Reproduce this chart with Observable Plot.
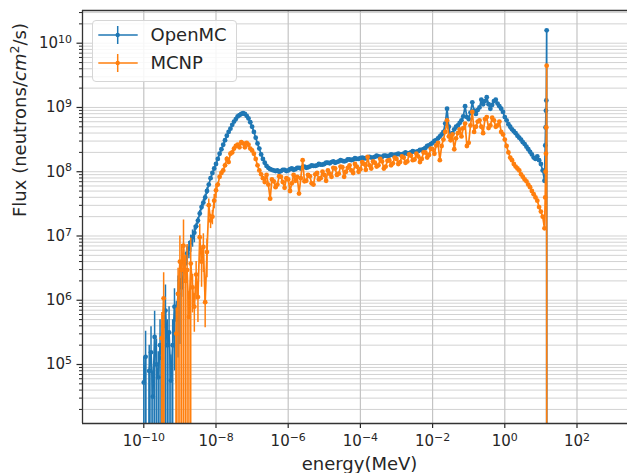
<!DOCTYPE html>
<html><head><meta charset="utf-8">
<script src="https://cdn.jsdelivr.net/npm/d3@7"></script>
<script src="https://cdn.jsdelivr.net/npm/@observablehq/plot@0.6"></script>
<style>
html,body{margin:0;padding:0;background:#fff;overflow:hidden;}
#wrap{position:relative;width:627px;height:473px;font-family:"DejaVu Sans",sans-serif;}
#legend{position:absolute;left:92px;top:20px;width:143px;height:60px;border:1px solid #d6d6d6;border-radius:4px;background:rgba(255,255,255,0.85);}
.row{position:absolute;left:0;height:24px;width:100%;}
.row svg{position:absolute;left:0;top:0;}
.row span{position:absolute;left:57.5px;top:0;line-height:24px;font-size:18px;color:#262626;white-space:nowrap;}
</style>
</head><body>
<div id="wrap"><div id="legend"></div></div>
<script>
// energy bin positions, log10(E / MeV)
const energyLog10 = [
 -10.00,-9.95,-9.90,-9.85,-9.80,-9.75,-9.70,-9.65,-9.60,-9.55,
 -9.50,-9.45,-9.40,-9.35,-9.30,-9.25,-9.20,-9.15,-9.10,-9.05,
 -9.00,-8.95,-8.90,-8.85,-8.80,-8.75,-8.70,-8.65,-8.60,-8.55,
 -8.50,-8.45,-8.40,-8.35,-8.30,-8.25,
 -8.20,-8.15,-8.10,-8.05,-8.00,-7.95,-7.90,-7.85,-7.80,-7.75,
 -7.70,-7.65,-7.60,-7.55,-7.50,-7.45,-7.40,-7.35,-7.30,-7.25,
 -7.20,-7.15,-7.10,-7.05,-7.00,-6.95,-6.90,-6.85,-6.80,-6.75,
 -6.70,-6.65,-6.60,-6.55,-6.50,-6.45,-6.40,-6.35,-6.30,-6.25,
 -6.20,-6.15,-6.10,-6.05,-6.00,-5.95,-5.90,-5.85,-5.80,-5.75,
 -5.70,-5.65,-5.60,-5.55,-5.50,-5.45,-5.40,-5.35,-5.30,-5.25,
 -5.20,-5.15,-5.10,-5.05,-5.00,-4.95,-4.90,-4.85,-4.80,-4.75,
 -4.70,-4.65,-4.60,-4.55,-4.50,-4.45,-4.40,-4.35,-4.30,-4.25,
 -4.20,-4.15,-4.10,-4.05,-4.00,-3.95,-3.90,-3.85,-3.80,-3.75,
 -3.70,-3.65,-3.60,-3.55,-3.50,-3.45,-3.40,-3.35,-3.30,-3.25,
 -3.20,-3.15,-3.10,-3.05,-3.00,-2.95,-2.90,-2.85,-2.80,-2.75,
 -2.70,-2.65,-2.60,-2.55,-2.50,-2.45,-2.40,-2.35,-2.30,-2.25,
 -2.20,-2.15,-2.10,-2.05,-2.00,-1.95,-1.90,-1.85,-1.80,-1.75,
 -1.70,-1.65,-1.60,-1.55,-1.50,-1.45,-1.40,-1.35,-1.30,-1.25,
 -1.20,-1.15,-1.10,-1.05,-1.00,-0.95,-0.90,-0.85,-0.80,-0.75,
 -0.70,-0.65,-0.60,-0.55,-0.50,-0.45,-0.40,-0.35,-0.30,-0.25,
 -0.20,-0.15,-0.10,-0.05,0.00,0.05,0.10,0.15,0.20,0.25,
 0.30,0.35,0.40,0.45,0.50,0.55,0.60,0.65,0.70,0.75,
 0.80,0.85,0.90,0.95,1.00,1.05,1.10,
 1.12,1.13,1.14,1.15,1.16,1.17];

// log10 flux (neutrons/cm2/s); null = zero flux
const openmcLog10Flux = [
 4.72,5.12,null,4.90,5.19,4.50,5.43,5.00,4.80,5.30,
 5.10,5.60,5.84,5.30,5.50,4.75,5.30,5.90,5.70,6.10,
 6.31,6.20,6.45,6.57,6.73,6.80,6.90,6.98,7.05,7.15,
 7.24,7.35,7.45,7.52,7.60,7.70,
 7.80,7.90,7.98,8.05,8.12,8.20,8.28,8.35,8.42,8.49,
 8.56,8.62,8.67,8.73,8.78,8.82,8.86,8.88,8.90,8.91,
 8.90,8.87,8.83,8.77,8.70,8.62,8.53,8.44,8.36,8.27,
 8.20,8.14,8.09,8.06,8.04,8.03,8.02,8.01,8.02,8.00,
 8.01,8.03,8.03,8.01,8.02,8.04,8.05,8.03,8.04,8.06,
 8.06,8.05,8.07,8.08,8.06,8.07,8.08,8.10,8.09,8.09,
 8.10,8.12,8.11,8.11,8.12,8.14,8.14,8.13,8.15,8.16,
 8.14,8.15,8.16,8.18,8.17,8.16,8.17,8.19,8.19,8.18,
 8.19,8.21,8.20,8.20,8.21,8.22,8.21,8.21,8.22,8.23,
 8.22,8.22,8.23,8.25,8.24,8.23,8.23,8.25,8.25,8.24,
 8.25,8.27,8.26,8.26,8.27,8.28,8.27,8.27,8.28,8.30,
 8.28,8.29,8.30,8.32,8.31,8.31,8.32,8.34,8.34,8.35,
 8.37,8.40,8.41,8.43,8.45,8.48,8.49,8.52,8.55,8.58,
 8.62,8.75,8.98,8.70,8.54,8.60,8.66,8.70,8.72,8.76,
 8.80,8.86,9.02,8.85,8.82,8.92,9.08,8.95,8.90,8.96,
 9.00,9.12,9.05,9.10,9.16,9.05,8.98,9.04,9.10,9.12,
 9.06,9.02,8.98,8.93,8.85,8.80,8.74,8.70,8.66,8.63,
 8.60,8.56,8.53,8.50,8.46,8.43,8.39,8.35,8.31,8.27,
 8.22,8.20,8.24,8.18,8.12,8.02,7.86,
 8.41,8.69,8.95,9.11,10.20,null];

// relative uncertainty of the low-energy bins (later bins: bars too small to see)
const openmcRelErr = [
 1.5,1.5,1.5,1.5,1.5,1.5,1.5,1.5,1.5,1.5,
 1.5,1.5,1.5,1.5,1.5,1.5,1.5,0.9,0.9,0.9,
 0.9,0.3,0.3,0.3,0.3,0.3,0.3,0.3,0.3,0.12,
 0.12,0.12,0.12,0.12,0.12,0.12,
 0.06,0.06,0.06,0.06,0.06];

const mcnpLog10Flux = [
 null,null,null,null,null,null,null,null,null,null,
 5.41,6.03,null,null,null,null,null,null,5.48,6.10,
 6.60,6.47,6.85,6.30,6.47,5.74,6.57,6.20,5.90,6.40,
 6.05,6.98,6.60,6.83,5.97,6.75,
 7.48,7.24,7.30,7.55,7.71,7.80,7.92,7.98,8.02,8.10,
 8.20,8.15,8.28,8.30,8.36,8.40,8.42,8.38,8.46,8.44,
 8.38,8.45,8.42,8.36,8.33,8.28,8.20,8.10,8.02,7.96,
 7.90,7.84,7.95,7.80,7.58,7.88,7.85,7.76,7.80,7.93,
 7.92,7.84,7.75,7.90,7.88,7.70,7.82,7.95,7.86,7.92,
 7.66,7.90,8.18,7.85,7.86,7.95,7.93,7.82,7.80,7.96,
 7.98,7.88,7.90,8.00,7.95,7.86,8.02,7.97,7.92,8.06,
 8.05,7.95,7.97,8.08,8.07,7.92,8.00,8.06,8.10,8.02,
 7.98,8.12,8.08,8.00,8.04,8.15,8.12,8.03,8.23,8.10,
 8.05,8.16,8.14,8.08,8.10,8.20,8.16,8.05,8.08,8.17,
 8.18,8.10,8.13,8.22,8.20,8.12,8.15,8.24,8.22,8.14,
 8.16,8.27,8.25,8.18,8.19,8.28,8.24,8.15,8.20,8.30,
 8.30,8.22,8.26,8.36,8.35,8.28,8.41,8.45,8.18,8.40,
 8.50,8.62,8.80,8.55,8.49,8.58,8.35,8.52,8.60,8.66,
 8.55,8.68,8.75,8.40,8.45,8.72,8.93,8.62,8.70,8.78,
 8.80,8.70,8.60,8.82,8.85,8.68,8.72,8.84,8.80,8.70,
 8.72,8.78,8.62,8.58,8.50,8.40,8.30,8.22,8.18,8.12,
 8.08,8.05,8.02,7.96,7.92,7.88,7.85,7.80,7.76,7.70,
 7.65,7.60,7.55,7.45,7.38,7.30,7.12,
 7.60,8.00,8.28,8.69,9.65,null];

const mcnpRelErr = [
 0,0,0,0,0,0,0,0,0,0,
 1.5,1.5,0,0,0,0,0,0,1.5,1.5,
 1.5,1.5,1.5,1.5,1.5,1.5,1.5,0.6,0.6,0.6,
 0.6,0.6,0.6,0.6,0.6,0.6,
 0.25,0.25,0.25,0.25,0.25,0.08,0.08,0.08,0.08,0.08,
 0.08,0.08,0.08,0.08,0.08];

const seriesNames = ["OpenMC", "MCNP"];
const seriesColors = ["#1f77b4", "#ff7f0e"];
const xTickExps = [-10, -8, -6, -4, -2, 0, 2];
const yTickExps = [5, 6, 7, 8, 9, 10];
const xLabel = "energy(MeV)";
const yLabel = "Flux (neutrons/cm2/s)";

const FLOOR = 1e-30;
const xDomain = [10 ** -11.698, 10 ** 3.399];
const yDomain = [10 ** 4.082, 10 ** 10.509];

const series = [
  {name: seriesNames[0], color: seriesColors[0], vals: openmcLog10Flux, err: openmcRelErr},
  {name: seriesNames[1], color: seriesColors[1], vals: mcnpLog10Flux, err: mcnpRelErr}
];

const yGrid = [];
for (let n = 4; n <= 10; n++) for (let k = 1; k <= 9; k++) {
  const v = k * 10 ** n;
  if (v >= yDomain[0] && v <= yDomain[1]) yGrid.push(v);
}
const xTicks = xTickExps.map(e => 10 ** e);
const yTicks = yTickExps.map(e => 10 ** e);
const fmt = d => "10^" + Math.round(Math.log10(d));

const seriesMarks = series.flatMap(s => {
  const pts = energyLog10.map((e, i) => ({E: 10 ** e, F: s.vals[i] == null ? 0 : 10 ** s.vals[i], r: s.err[i] || 0}));
  return [
    Plot.line(pts, {x: "E", y: d => d.F > 0 ? d.F : FLOOR, stroke: s.color, strokeWidth: 1.7, clip: true}),
    Plot.ruleX(pts.filter(d => d.F > 0 && d.r > 0), {x: "E", y1: d => Math.max(d.F * (1 - d.r), FLOOR), y2: d => d.F * (1 + d.r), stroke: s.color, strokeWidth: 1.5, clip: true}),
    Plot.dot(pts.filter(d => d.F > 0), {x: "E", y: "F", r: 2.4, fill: s.color, clip: true})
  ];
});

const chart = Plot.plot({
  width: 627, height: 473,
  marginLeft: 82, marginRight: 0, marginTop: 10, marginBottom: 50,
  style: {fontFamily: "DejaVu Sans", fontSize: "15px", color: "#262626", background: "transparent", overflow: "hidden"},
  x: {type: "log", domain: xDomain},
  y: {type: "log", domain: yDomain},
  marks: [
    Plot.ruleY(yGrid, {stroke: "#d2d2d2", strokeWidth: 1}),
    Plot.ruleX(xTicks, {stroke: "#c4c4c4", strokeWidth: 1.2}),
    ...seriesMarks,
    Plot.axisY(yGrid.filter(v => !yTicks.some(t => Math.abs(t - v) / t < 1e-9)), {tickSize: 3, tickFormat: () => "", label: null, strokeWidth: 1}),
    Plot.axisY(yTicks, {tickSize: 5.5, tickPadding: 5, tickFormat: fmt, fontSize: 15, label: null, strokeWidth: 1.2}),
    Plot.axisX(xTicks, {tickSize: 5, tickPadding: 7, tickFormat: fmt, fontSize: 15, label: null, strokeWidth: 1.2}),
    Plot.ruleX([xDomain[0]], {stroke: "#333", strokeWidth: 1.3}),
    Plot.ruleY([yDomain[0]], {stroke: "#333", strokeWidth: 1.3}),
    Plot.ruleY([yDomain[1]], {stroke: "#333", strokeWidth: 1.3}),
    Plot.text([xLabel], {text: d => d, frameAnchor: "bottom", dx: 4.5, dy: 40.5, fontSize: 18, lineAnchor: "middle", fill: "#262626"}),
    Plot.text([yLabel], {text: d => d, frameAnchor: "left", dx: -62.5, rotate: -90, fontSize: 18, lineAnchor: "middle", fill: "#262626"})
  ]
});

const NS = "http://www.w3.org/2000/svg";
function tspan(txt, attrs) {
  const t = document.createElementNS(NS, "tspan");
  for (const k in attrs) t.setAttribute(k, attrs[k]);
  t.textContent = txt;
  return t;
}
chart.querySelectorAll("text").forEach(t => {
  const m = t.textContent.match(/^10\^(-?\d+)$/);
  if (m) {
    t.textContent = "10";
    t.appendChild(tspan(m[1].replace("-", "\u2212"), {dy: "-0.48em", "font-size": "0.73em"}));
  } else if (t.textContent === yLabel) {
    t.textContent = "Flux (neutrons/";
    t.appendChild(tspan("cm", {"font-style": "italic"}));
    t.appendChild(tspan("2", {dy: "-0.5em", "font-size": "0.7em"}));
    t.appendChild(tspan("/s)", {dy: "0.35em"}));
  }
});

const wrap = document.getElementById("wrap");
wrap.insertBefore(chart, wrap.firstChild);

const legend = document.getElementById("legend");
series.forEach((s, i) => {
  const row = document.createElement("div");
  row.className = "row";
  row.style.top = (i === 0 ? 2 : 30.3) + "px";
  row.innerHTML = `<svg width="50" height="24"><line x1="5.3" y1="12" x2="44.7" y2="12" stroke="${s.color}" stroke-width="1.5"/><line x1="24.7" y1="3" x2="24.7" y2="21" stroke="${s.color}" stroke-width="1.5"/><circle cx="24.7" cy="12" r="2.2" fill="${s.color}"/></svg><span></span>`;
  row.querySelector("span").textContent = s.name;
  legend.appendChild(row);
});
chart.style.position = "absolute";
chart.style.left = "0";
chart.style.top = "0";
</script>
</body></html>
